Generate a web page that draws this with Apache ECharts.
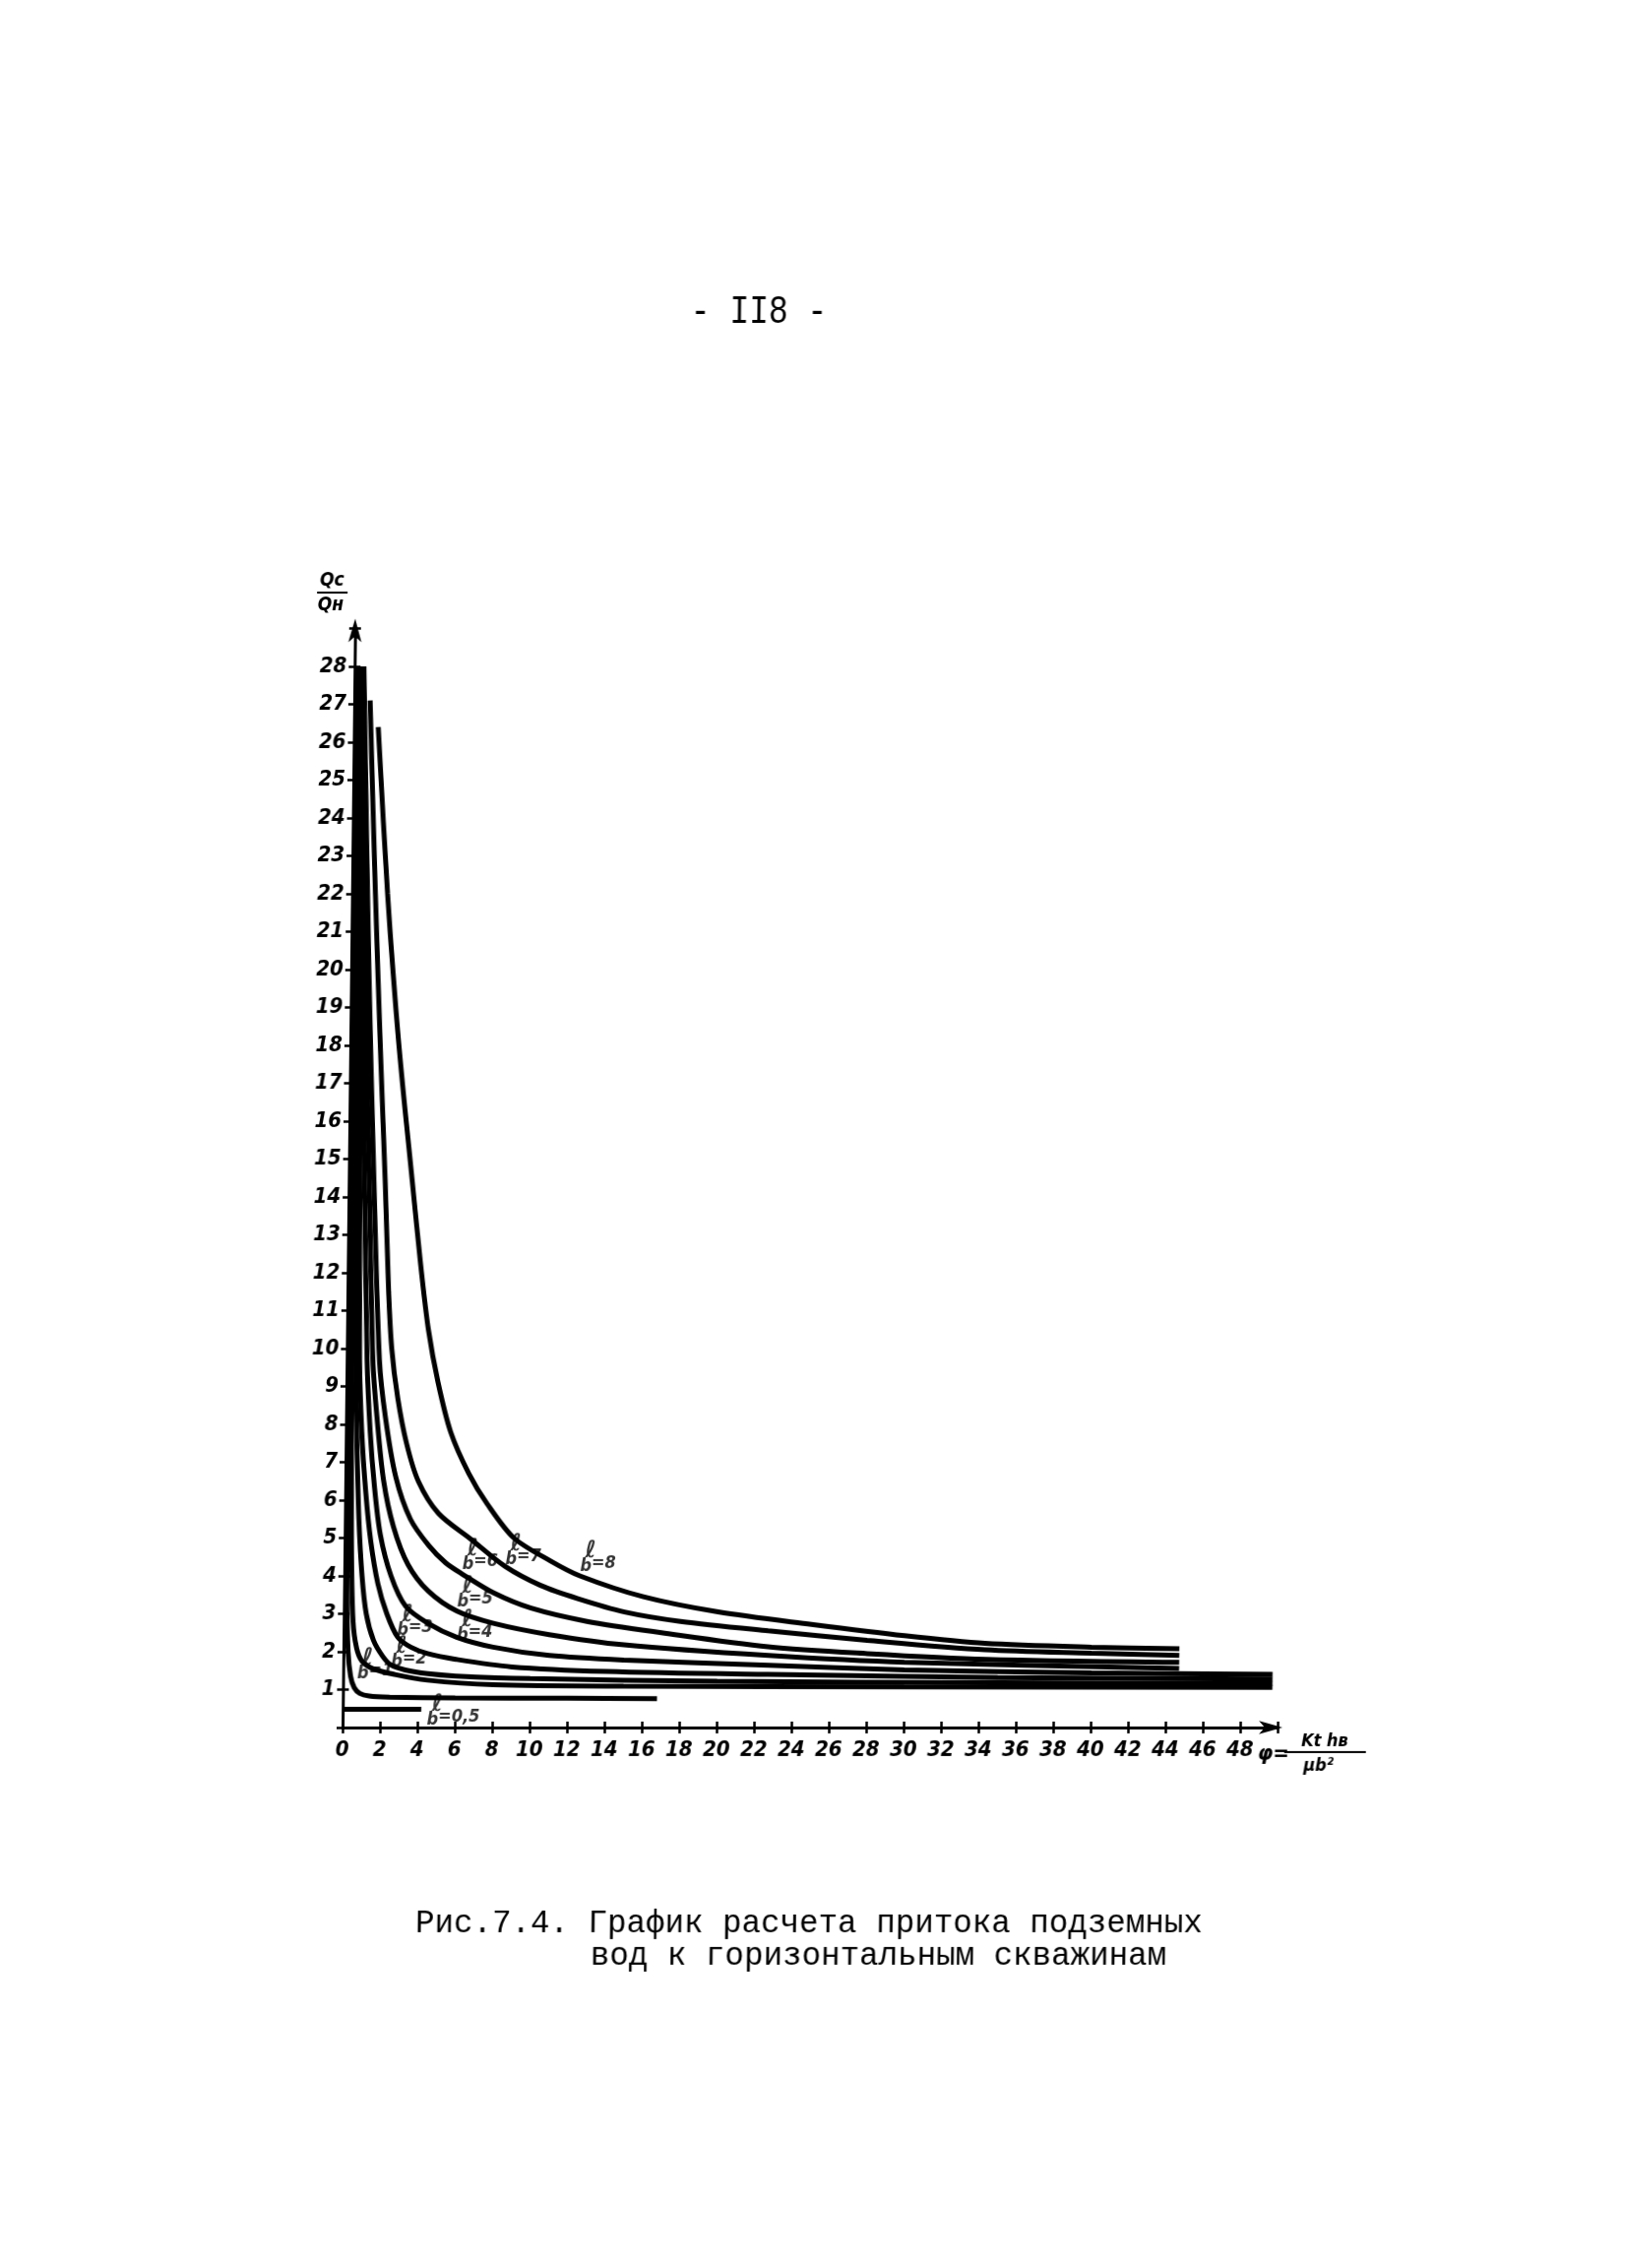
<!DOCTYPE html>
<html><head><meta charset="utf-8">
<script src="https://cdn.jsdelivr.net/npm/echarts@6/dist/echarts.min.js"></script>
<style>
html,body{margin:0;padding:0;background:#fff;overflow:hidden}
#c{width:1653px;height:2304px;transform:skewX(-0.654deg);transform-origin:348px 1755px}
</style>
</head><body><div id="c"></div>
<script>
// ---- tick labels ----
const xTickLabels = [0,2,4,6,8,10,12,14,16,18,20,22,24,26,28,30,32,34,36,38,40,42,44,46,48];
const yTickLabels = [1,2,3,4,5,6,7,8,9,10,11,12,13,14,15,16,17,18,19,20,21,22,23,24,25,26,27,28];

// ---- curves (x = φ, y = Qc/Qн) ----
const flat05 = [[0,0.48],[4.2,0.48]];
const curve05 = [[0.12,16.5],[0.13,10],[0.14,6],[0.16,3.5],[0.25,2],[0.4,1.35],[0.6,1.05],[0.9,0.9],[1.4,0.83],[2.5,0.8],[6,0.78],[12,0.77],[16.8,0.76]];
const curve1 = [[0.2,28],[0.24,15],[0.3,8],[0.38,4.5],[0.5,2.8],[0.7,2.1],[1.0,1.75],[1.6,1.55],[2.75,1.4],[4.5,1.25],[8,1.13],[15,1.09],[30,1.07],[49.7,1.06]];
const curve2 = [[0.25,28],[0.35,20],[0.45,14.4],[0.5,9.7],[0.6,7.5],[0.75,5.5],[0.95,4],[1.2,3.0],[1.6,2.3],[2.1,1.88],[2.55,1.65],[3.3,1.52],[4.5,1.42],[6,1.36],[10,1.29],[20,1.22],[35,1.18],[49.7,1.16]];
const curve3 = [[0.3,28],[0.45,20],[0.6,14.4],[0.69,9.7],[0.85,7.8],[1.1,6.2],[1.4,4.9],[1.8,3.8],[2.3,3.0],[2.9,2.38],[3.6,2.12],[4.5,1.95],[6,1.8],[9,1.6],[14,1.48],[22.7,1.4],[35,1.32],[49.7,1.28]];
const curve4 = [[0.35,28],[0.6,20],[0.85,14.4],[1.09,9.7],[1.3,7.8],[1.55,6.4],[1.9,5.1],[2.5,4.0],[3.3,3.2],[4.5,2.75],[6.05,2.38],[8,2.12],[11,1.9],[15,1.78],[22.7,1.64],[30,1.52],[40,1.44],[49.7,1.4]];
const curve5 = [[0.4,28],[0.75,20],[1.1,14.4],[1.4,9.7],[1.65,8.2],[2.05,6.5],[2.6,5.3],[3.4,4.3],[4.5,3.6],[6.05,3.07],[8,2.75],[11,2.45],[15,2.18],[22.7,1.9],[30,1.72],[44.7,1.56]];
const curve6 = [[0.5,28],[0.95,20],[1.35,14.4],[1.75,9.7],[2.1,8.2],[2.7,6.6],[3.5,5.5],[4.5,4.8],[5.4,4.35],[6.3,4.05],[8,3.55],[10,3.15],[13,2.8],[17,2.5],[22.7,2.13],[28,1.95],[34.3,1.8],[44.7,1.72]];
const curve7 = [[0.85,27.1],[1.25,22],[1.65,17.5],[1.95,14.4],[2.2,11.5],[2.4,10],[2.75,8.7],[3.25,7.5],[3.9,6.5],[5.0,5.65],[6.8,4.95],[8.6,4.25],[10.5,3.75],[12.5,3.4],[15,3.05],[18,2.8],[22.7,2.55],[28,2.3],[34.3,2.05],[40,1.96],[44.7,1.9]];
const curve8 = [[1.3,26.4],[1.9,22],[2.6,18],[3.4,14.4],[3.9,12.2],[4.35,10.5],[4.9,9.1],[5.6,7.8],[6.6,6.7],[7.6,5.9],[9.05,5.0],[11,4.4],[12.6,4.0],[16,3.45],[20,3.05],[25,2.72],[30,2.42],[34.3,2.22],[40,2.12],[44.7,2.08]];

// ---- curve labels (ℓ/b = value), anchored at their left edge ----
const labelNames = ['0,5','1','2','3','4','5','6','7','8'];
const labelX = [4.5,0.75,2.55,2.85,6.05,6.05,6.3,8.6,12.6];
const labelY = [0.42,1.64,1.95,2.78,2.65,3.53,4.5,4.65,4.47];

const curves = [flat05, curve05, curve1, curve2, curve3, curve4, curve5, curve6, curve7, curve8];

const hand = {fontFamily:'DejaVu Sans Condensed, DejaVu Sans', fontStyle:'italic', fontWeight:'bold', color:'#000'};
const mono = 'Liberation Mono, DejaVu Sans Mono, monospace';

const chart = echarts.init(document.getElementById('c'), null, {renderer:'canvas'});

const series = curves.map(d => ({
  type:'line', data:d, showSymbol:false, smooth:0.3, xAxisIndex:0, yAxisIndex:0,
  lineStyle:{color:'#000', width:5}, silent:true, animation:false, clip:false
}));
series.push({
  type:'scatter', xAxisIndex:0, yAxisIndex:0, symbolSize:0, animation:false, silent:true,
  data: labelNames.map((n,i)=>({value:[labelX[i],labelY[i]], name:n})),
  label:{show:true, position:'inside', align:'left', verticalAlign:'middle',
    formatter:p=>'{n|ℓ}\n{d|b}{e|=' + p.name + '}',
    rich:{
      n:{fontSize:24, lineHeight:16, padding:[0,0,0,5], fontFamily:'DejaVu Serif, DejaVu Sans', fontStyle:'italic', fontWeight:'bold', color:'#000'},
      d:{fontSize:18, lineHeight:15, ...hand},
      e:{fontSize:18, lineHeight:15, padding:[0,0,6,0], ...hand}
    }}
});

chart.setOption({
  backgroundColor:'#fff',
  animation:false,
  grid:{left:348, top:638.5, width:950, height:1116.5, containLabel:false},
  xAxis:[{
    type:'value', min:0, max:50, interval:2,
    axisLine:{show:true, lineStyle:{color:'#000', width:3}, symbol:['none','arrow'], symbolSize:[10,24], symbolOffset:[0,5]},
    axisTick:{show:true, length:6, lineStyle:{color:'#000', width:2.5}},
    axisLabel:{margin:12, fontSize:22, ...hand, formatter:v=> xTickLabels.indexOf(v)>=0 ? String(v) : ''},
    splitLine:{show:false}
  },{
    type:'value', min:0, max:50, interval:2, position:'bottom',
    axisLine:{show:false}, axisTick:{show:true, inside:true, length:6, lineStyle:{color:'#000', width:2.5}},
    axisLabel:{show:false}, splitLine:{show:false}
  }],
  yAxis:[{
    type:'value', min:0, max:29, interval:1,
    axisLine:{show:true, lineStyle:{color:'#000', width:3}, symbol:['none','arrow'], symbolSize:[10,24], symbolOffset:[0,10]},
    axisTick:{show:true, length:6, lineStyle:{color:'#000', width:2.5}},
    axisLabel:{margin:8, fontSize:22, ...hand, formatter:v=> yTickLabels.indexOf(v)>=0 ? String(v) : ''},
    splitLine:{show:false}
  },{
    type:'value', min:0, max:29, interval:1, position:'left',
    axisLine:{show:false}, axisTick:{show:true, inside:true, length:6, lineStyle:{color:'#000', width:2.5}},
    axisLabel:{show:false}, splitLine:{show:false}
  }],
  series: series,
  graphic:[
    {type:'text', x:754.6, y:317, scaleY:1.25, style:{text:'- II8 -', x:0, y:0, textAlign:'center', textVerticalAlign:'middle', font:'33px '+mono, fill:'#000'}},
    {type:'text', style:{text:'Рис.7.4. График расчета притока подземных', x:424.3, y:1954, textAlign:'left', textVerticalAlign:'middle', font:'32.5px '+mono, fill:'#000'}},
    {type:'text', style:{text:'вод к горизонтальным скважинам', x:602.6, y:1987, textAlign:'left', textVerticalAlign:'middle', font:'32.5px '+mono, fill:'#000'}},
    // y-axis name Qc/Qн
    {type:'text', style:{text:'Qc', x:324, y:590, textAlign:'center', textVerticalAlign:'middle', font:'italic bold 19px DejaVu Sans Condensed', fill:'#000'}},
    {type:'line', shape:{x1:309, y1:602, x2:340, y2:602}, style:{stroke:'#000', lineWidth:2}},
    {type:'text', style:{text:'Qн', x:323, y:615, textAlign:'center', textVerticalAlign:'middle', font:'italic bold 19px DejaVu Sans Condensed', fill:'#000'}},
    // x-axis name φ = Kt hв / μb²
    {type:'text', style:{text:'φ=', x:1278, y:1782, textAlign:'left', textVerticalAlign:'middle', font:'italic bold 22px DejaVu Sans Condensed', fill:'#000'}},
    {type:'text', style:{text:'Kt hв', x:1346, y:1769, textAlign:'center', textVerticalAlign:'middle', font:'italic bold 18px DejaVu Sans Condensed', fill:'#000'}},
    {type:'line', shape:{x1:1305, y1:1780, x2:1388, y2:1780}, style:{stroke:'#000', lineWidth:2}},
    {type:'text', style:{text:'μb²', x:1340, y:1794, textAlign:'center', textVerticalAlign:'middle', font:'italic bold 18px DejaVu Sans Condensed', fill:'#000'}}
  ]
});
</script>
</body></html>
